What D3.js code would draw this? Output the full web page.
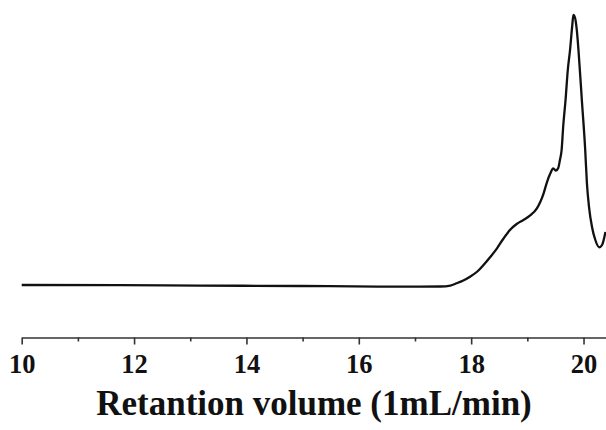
<!DOCTYPE html>
<html>
<head>
<meta charset="utf-8">
<script src="https://cdn.jsdelivr.net/npm/d3@7"></script>
<style>
  html, body { margin: 0; padding: 0; background: #fff; }
  svg { display: block; }
</style>
</head>
<body>
<script>
// elution trace (retention volume, relative signal)
var retention = [10.00, 11.75, 13.17, 14.95, 16.38, 17.09, 17.45, 17.63, 17.74, 17.86,
  17.98, 18.11, 18.22, 18.34, 18.46, 18.57, 18.69, 18.81, 18.93, 19.05,
  19.17, 19.23, 19.29, 19.35, 19.41, 19.46, 19.51, 19.55, 19.58, 19.61,
  19.64, 19.68, 19.72, 19.76, 19.80, 19.82, 19.85, 19.88, 19.91, 19.97,
  20.03, 20.06, 20.10, 20.15, 20.21, 20.28, 20.33, 20.39];
var signal = [0.74, 0.66, 0.51, 0.37, 0.15, 0.11, 0.18, 0.55, 1.36, 2.39,
  3.79, 5.70, 8.09, 11.03, 14.23, 17.65, 20.96, 23.16, 24.63, 26.29,
  28.93, 31.25, 34.45, 38.60, 41.80, 43.64, 42.83, 43.75, 46.69, 50.37,
  59.56, 68.75, 79.78, 87.13, 96.32, 100.0, 98.9, 94.5, 87.13, 68.75,
  50.37, 38.24, 29.04, 22.17, 17.28, 14.60, 15.44, 20.22];
var tickVals = d3.range(10, 21, 1);
var xTitle = "Retantion volume (1mL/min)";

var width = 606, height = 430;

var svg = d3.select("body").append("svg")
    .attr("width", width)
    .attr("height", height);

var x = d3.scaleLinear()
    .domain([10, 20.4])
    .range([21.7, 606]);

var y = d3.scaleLinear()
    .domain([0, 100])
    .range([287, 15]);

var axisY = 337.5;

// axis
var gx = svg.append("g")
    .attr("transform", "translate(0," + axisY + ")")
    .call(d3.axisBottom(x)
        .tickValues(tickVals)
        .tickSizeOuter(0)
        .tickSizeInner(7)
        .tickPadding(10)
        .tickFormat(d => d % 2 === 0 ? d : ""));

gx.select(".domain")
    .attr("stroke", "#333")
    .attr("stroke-width", 1.6);

gx.selectAll(".tick line")
    .attr("stroke", "#333")
    .attr("stroke-width", 1.6)
    .attr("y2", d => d % 2 === 0 ? 7 : 4);

gx.selectAll(".tick text")
    .attr("fill", "#111")
    .attr("y", 35.5)
    .attr("dy", 0)
    .style("font-family", "'Liberation Serif', 'Times New Roman', serif")
    .style("font-weight", "bold")
    .style("font-size", "26.5px");

// title
svg.append("text")
    .attr("x", 314)
    .attr("y", 415)
    .attr("text-anchor", "middle")
    .attr("fill", "#111")
    .style("font-family", "'Liberation Serif', 'Times New Roman', serif")
    .style("font-weight", "bold")
    .style("font-size", "35px")
    .text(xTitle);

// trace
var pts = retention.map((r, i) => [r, signal[i]]);
var line = d3.line()
    .x(d => x(d[0]))
    .y(d => y(d[1]))
    .curve(d3.curveMonotoneX);

svg.append("path")
    .datum(pts)
    .attr("fill", "none")
    .attr("stroke", "#111")
    .attr("stroke-width", 2.3)
    .attr("stroke-linejoin", "round")
    .attr("d", line);
</script>
</body>
</html>
